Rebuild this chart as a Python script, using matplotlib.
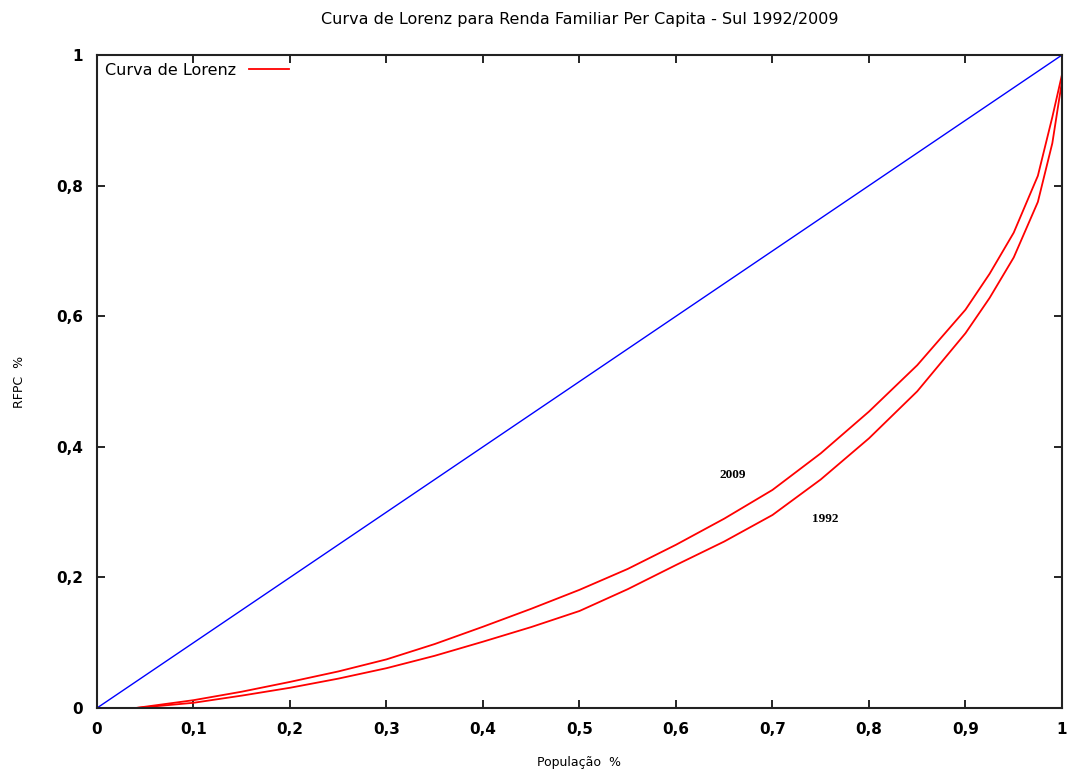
import matplotlib
matplotlib.use("Agg")
import matplotlib.pyplot as plt

# Curvas de Lorenz (fração acumulada da população x fração acumulada da RFPC)
pop = [0.04, 0.10, 0.15, 0.20, 0.25, 0.30, 0.35, 0.40, 0.45, 0.50, 0.55, 0.60,
       0.65, 0.70, 0.75, 0.80, 0.85, 0.90, 0.925, 0.95, 0.975, 0.99, 1.00]
rfpc_2009 = [0.0, 0.012, 0.025, 0.040, 0.056, 0.0745, 0.098, 0.1245, 0.152, 0.181,
             0.213, 0.250, 0.290, 0.334, 0.390, 0.454, 0.525, 0.610, 0.665, 0.728,
             0.815, 0.905, 0.970]
rfpc_1992 = [0.0, 0.008, 0.019, 0.031, 0.045, 0.061, 0.080, 0.1016, 0.124, 0.1486,
             0.182, 0.219, 0.255, 0.2956, 0.350, 0.413, 0.485, 0.574, 0.628, 0.690,
             0.775, 0.865, 0.960]
igualdade = [0.0, 1.0]

xticks = [0, 0.1, 0.2, 0.3, 0.4, 0.5, 0.6, 0.7, 0.8, 0.9, 1.0]
xticklabels = ["0", "0,1", "0,2", "0,3", "0,4", "0,5", "0,6", "0,7", "0,8", "0,9", "1"]
yticks = [0, 0.2, 0.4, 0.6, 0.8, 1.0]
yticklabels = ["0", "0,2", "0,4", "0,6", "0,8", "1"]

fig = plt.figure(figsize=(10.67, 7.76), dpi=100)
ax = fig.add_axes([0.0909, 0.0876, 0.9044, 0.8415])

ax.plot(igualdade, igualdade, color="blue", lw=1.0)
ax.plot(pop, rfpc_2009, color="red", lw=1.3, label="Curva de Lorenz")
ax.plot(pop, rfpc_1992, color="red", lw=1.3)

ax.text(0.659, 0.357, "2009", family="Liberation Serif", fontsize=9.5,
        fontweight="bold", ha="center", va="center")
ax.text(0.755, 0.289, "1992", family="Liberation Serif", fontsize=9.5,
        fontweight="bold", ha="center", va="center")

ax.set_xlim(0, 1)
ax.set_ylim(0, 1)
ax.set_xticks(xticks)
ax.set_xticklabels(xticklabels)
ax.set_yticks(yticks)
ax.set_yticklabels(yticklabels)
ax.tick_params(direction="in", length=6, width=1.2, top=True, right=True,
               labelsize=11, pad=10)
for lab in ax.get_xticklabels() + ax.get_yticklabels():
    lab.set_fontweight("bold")
for s in ax.spines.values():
    s.set_linewidth(1.5)
    s.set_color("#222222")

ax.set_xlabel("População  %", fontsize=9, labelpad=14)
ax.set_ylabel("RFPC  %", fontsize=9, labelpad=22)
ax.set_title("Curva de Lorenz para Renda Familiar Per Capita - Sul 1992/2009",
             fontsize=11.5, pad=22)

ax.legend(loc="upper left", frameon=False, markerfirst=False, fontsize=11.5,
          handlelength=2.5, borderaxespad=0.3, borderpad=0.2)

fig.savefig("out.png", dpi=100)
